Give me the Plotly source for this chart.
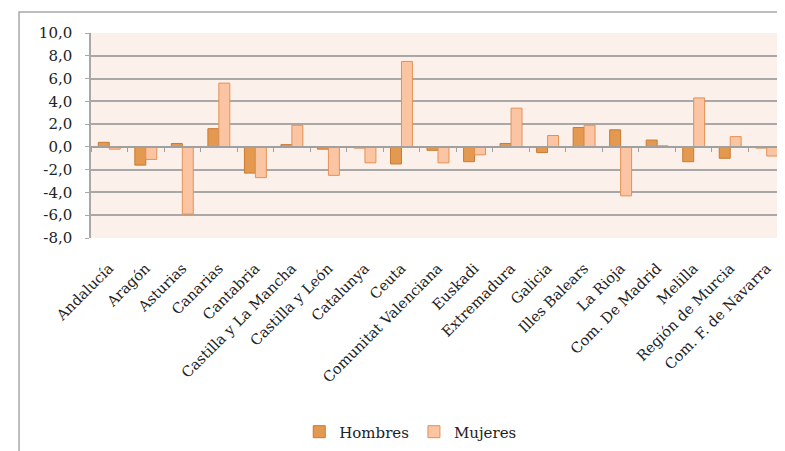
import plotly.graph_objects as go

categories = ["Andalucía", "Aragón", "Asturias", "Canarias", "Cantabria",
              "Castilla y La Mancha", "Castilla y León", "Catalunya", "Ceuta",
              "Comunitat Valenciana", "Euskadi", "Extremadura", "Galicia",
              "Illes Balears", "La Rioja", "Com. De Madrid", "Melilla",
              "Región de Murcia", "Com. F. de Navarra"]
hombres = [0.4, -1.6, 0.3, 1.6, -2.3, 0.2, -0.2, -0.1, -1.5, -0.3, -1.3, 0.3,
           -0.5, 1.7, 1.5, 0.6, -1.3, -1.0, -0.1]
mujeres = [-0.2, -1.1, -5.9, 5.6, -2.7, 1.9, -2.5, -1.4, 7.5, -1.4, -0.7, 3.4,
           1.0, 1.9, -4.3, 0.1, 4.3, 0.9, -0.8]
y_tickvals = [-8, -6, -4, -2, 0, 2, 4, 6, 8, 10]
y_ticktext = ["-8,0", "-6,0", "-4,0", "-2,0", "0,0", "2,0", "4,0", "6,0", "8,0", "10,0"]
y_range = [-8, 10]

font_family = "DejaVu Serif, Liberation Serif, serif"

fig = go.Figure()
fig.add_trace(go.Bar(name="Hombres", x=categories, y=hombres,
                     marker=dict(color="#E3994F", line=dict(color="#C97A35", width=1))))
fig.add_trace(go.Bar(name="Mujeres", x=categories, y=mujeres,
                     marker=dict(color="#FBC4A2", line=dict(color="#E39255", width=1))))
# invisible trace to carry a tick axis at y=0
fig.add_trace(go.Bar(x=categories, y=[None]*len(categories), xaxis="x2",
                     showlegend=False, hoverinfo="skip"))

zero_pos = (0 - y_range[0]) / (y_range[1] - y_range[0])

fig.update_layout(
    width=785, height=451,
    margin=dict(l=83, r=8, t=25, b=221),
    paper_bgcolor="white",
    plot_bgcolor="#FCF0EA",
    barmode="group",
    bargap=0.4,
    bargroupgap=0,
    font=dict(family=font_family, size=15, color="#222222"),
    xaxis=dict(tickangle=-45, showgrid=False, ticks="", showline=False,
               automargin=False, tickfont=dict(size=14.5),
               ticklabelstandoff=18,
               range=[-0.5, len(categories) - 0.5]),
    xaxis2=dict(overlaying="x", matches="x", anchor="free", position=zero_pos,
                side="bottom", showticklabels=False, ticks="outside",
                tickson="boundaries", ticklen=4, tickcolor="#A0A0A0",
                showline=True, linecolor="#A0A0A0", linewidth=1.5,
                showgrid=False, automargin=False),
    yaxis=dict(range=y_range, tickvals=y_tickvals, ticktext=y_ticktext,
               showgrid=True,
               gridcolor="#A8A8A8", gridwidth=1.5, zeroline=False,
               showline=True, linecolor="#A8A8A8", linewidth=1.5,
               ticks="outside", ticklen=4, tickcolor="#A8A8A8",
               ticklabelstandoff=10,
               automargin=False, tickfont=dict(size=15)),
    legend=dict(orientation="h", x=0.46, xanchor="center", y=-0.946,
                yanchor="middle", font=dict(size=15), traceorder="normal"),
    shapes=[dict(type="rect", xref="paper", yref="paper",
                 x0=-0.1037, x1=1.2, y0=-1.3, y1=1.102,
                 line=dict(color="#A8A8A8", width=1.5), layer="below")],
)

fig.write_html("out.html")
